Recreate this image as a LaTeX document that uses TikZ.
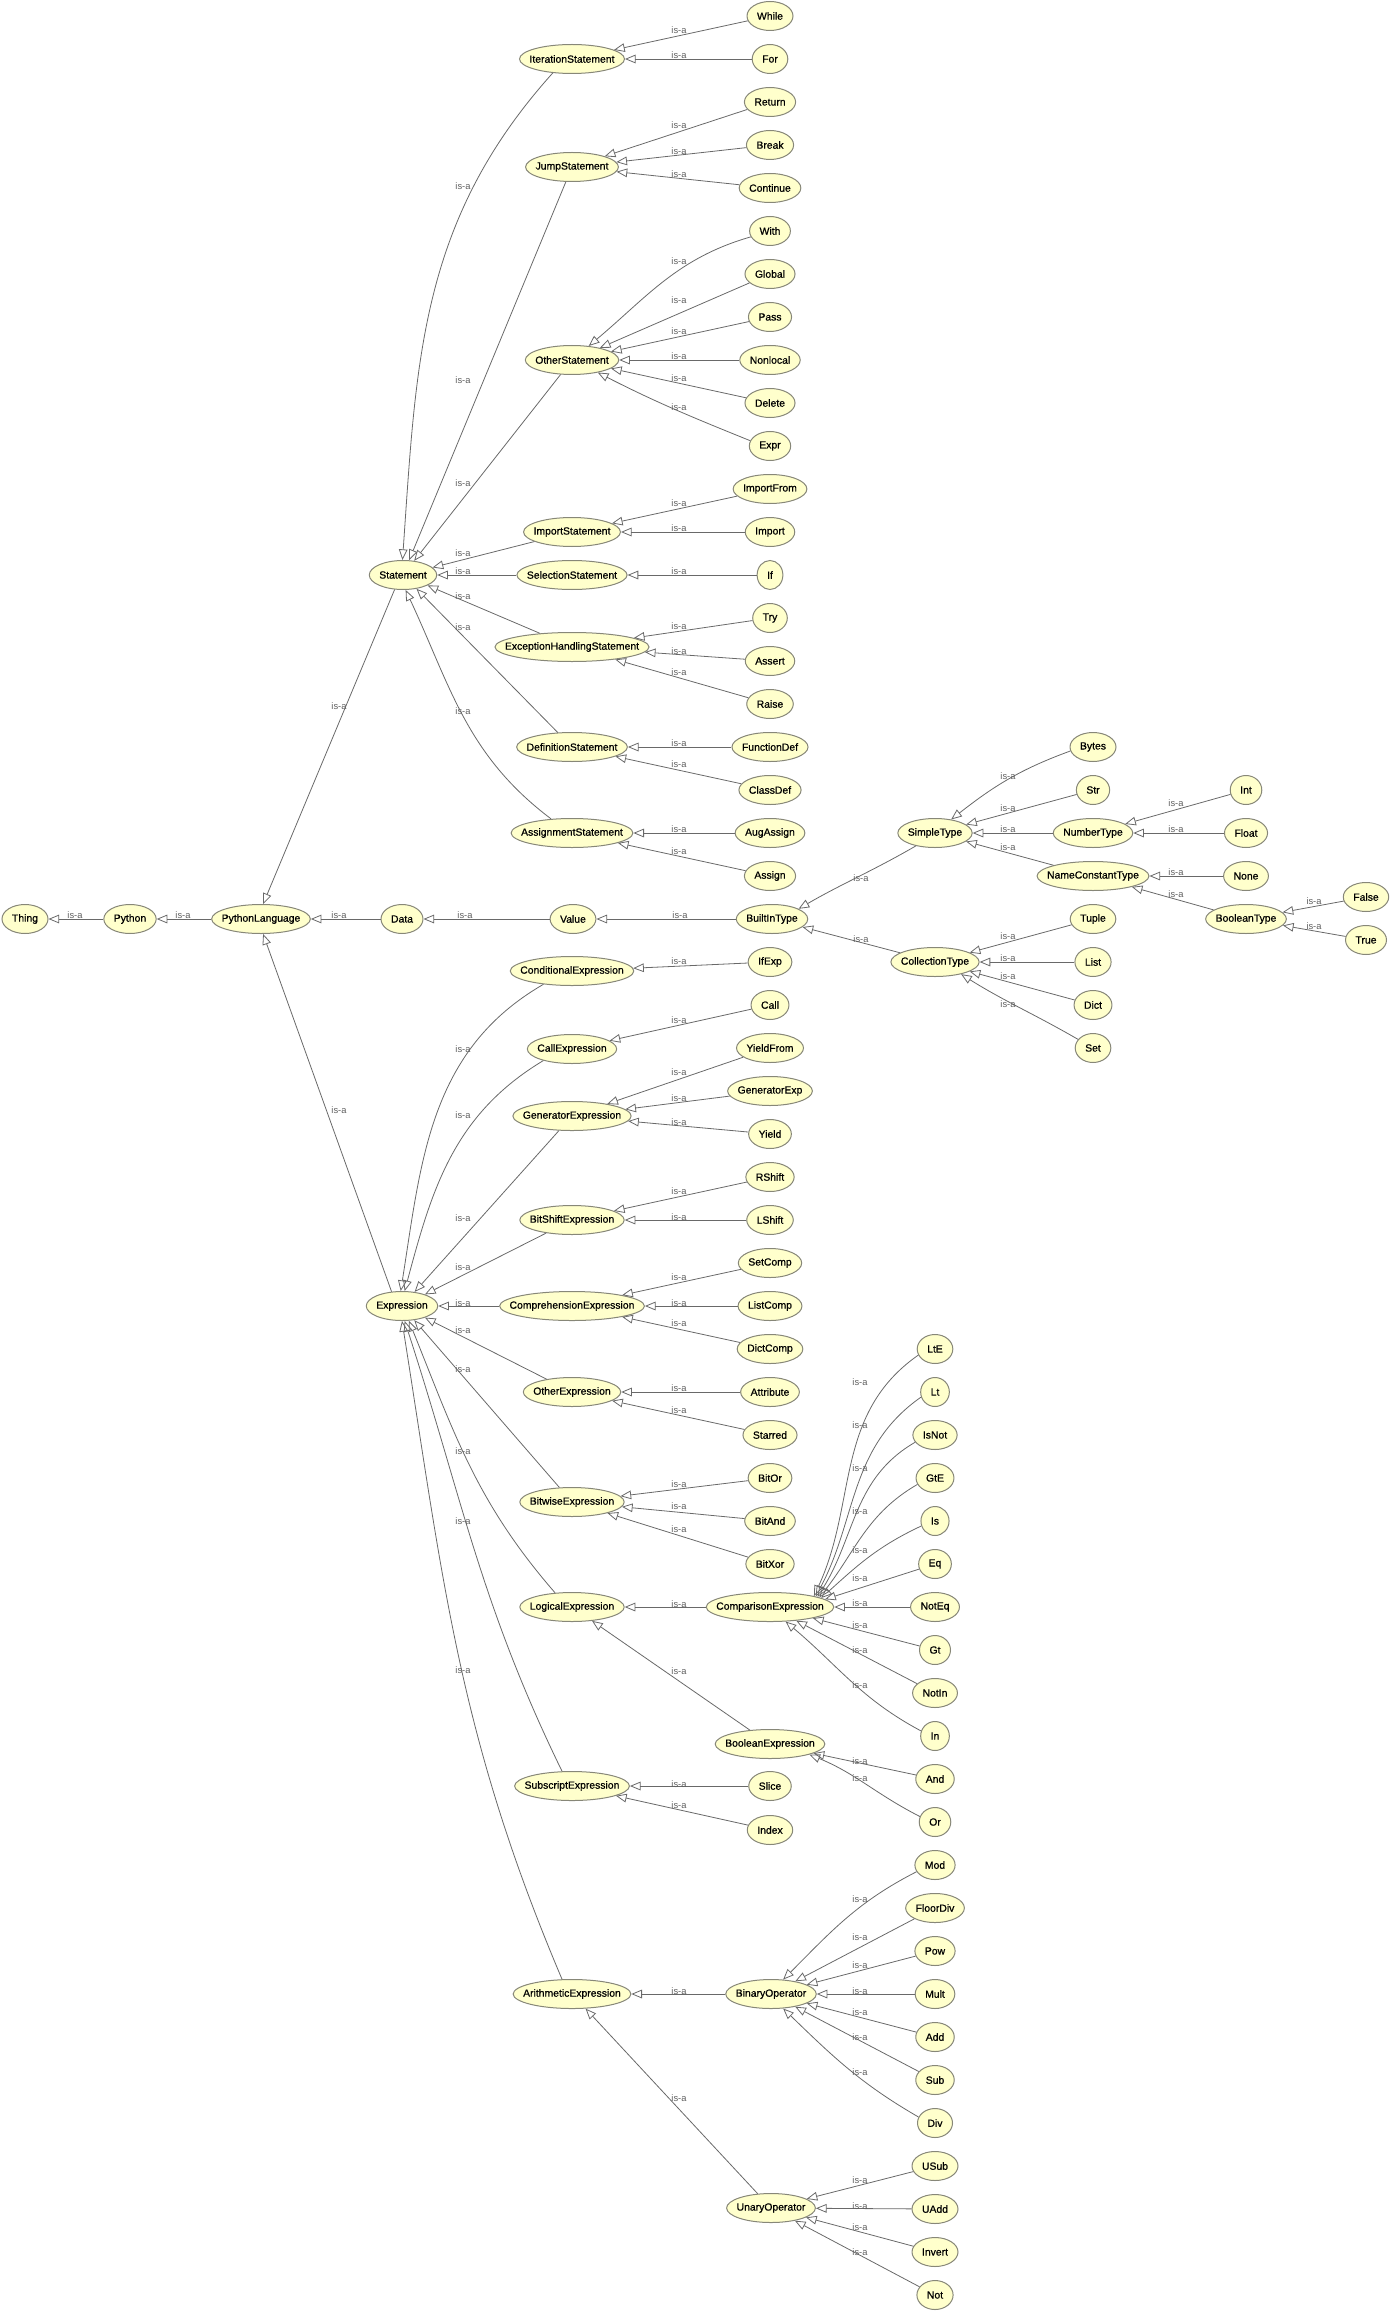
\documentclass[tikz,border=0pt]{standalone}
\usepackage{fontspec}
\setmainfont{Liberation Sans}
\newfontfamily\clsfont{Liberation Sans}[FakeBold=0.7]
\usepackage{xcolor}
\usepackage{tikz}
\usetikzlibrary{shapes.geometric,arrows.meta}
\definecolor{clsfill}{RGB}{255,255,204}
\definecolor{clsline}{RGB}{135,135,120}
\definecolor{edgeline}{RGB}{105,105,105}
\definecolor{lblgray}{RGB}{95,95,95}
\tikzset{
	cls/.style={ellipse, draw=clsline, fill=clsfill, line width=0.75pt,
		inner xsep={-0.5*\wd\pgfnodeparttextbox}, inner ysep=0pt,
		minimum width={\wd\pgfnodeparttextbox+15pt}, minimum height=21.75pt,
		font=\clsfont\fontsize{7.8pt}{9pt}\selectfont},
	isa/.style={draw=edgeline, line width=0.6pt, -{Triangle[open, length=8pt, width=6.5pt]}},
	lbl/.style={text=lblgray, inner sep=0pt, font=\fontsize{7pt}{8pt}\selectfont}
}
\begin{document}
\begin{tikzpicture}[x=0.75pt,y=0.75pt]
				\useasboundingbox (0,0) rectangle (1398,-2318);
				% main chain
				\node[cls] (Thing) at (25,-919) {Thing};
				\node[cls] (Python) at (130,-919) {Python};
				\node[cls] (PythonLanguage) at (261,-919) {PythonLanguage};
				\node[cls] (Data) at (402,-919) {Data};
				\node[cls] (Value) at (573,-919) {Value};
				\node[cls] (BuiltInType) at (772,-919) {BuiltInType};
				\node[cls] (Statement) at (403,-575) {Statement};
				\node[cls] (Expression) at (402,-1306) {Expression};
				% statements
				\node[cls] (IterationStatement) at (572,-59) {IterationStatement};
				\node[cls] (JumpStatement) at (572,-167) {JumpStatement};
				\node[cls] (OtherStatement) at (572,-360) {OtherStatement};
				\node[cls] (ImportStatement) at (572,-532) {ImportStatement};
				\node[cls] (SelectionStatement) at (572,-575) {SelectionStatement};
				\node[cls] (ExceptionHandlingStatement) at (572,-647) {ExceptionHandlingStatement};
				\node[cls] (DefinitionStatement) at (572,-747) {DefinitionStatement};
				\node[cls] (AssignmentStatement) at (572,-833) {AssignmentStatement};
				\node[cls] (While) at (770,-16) {While};
				\node[cls] (For) at (770,-59) {For};
				\node[cls] (Return) at (770,-102) {Return};
				\node[cls] (Break) at (770,-145) {Break};
				\node[cls] (Continue) at (770,-188) {Continue};
				\node[cls] (With) at (770,-231) {With};
				\node[cls] (Global) at (770,-274) {Global};
				\node[cls] (Pass) at (770,-317) {Pass};
				\node[cls] (Nonlocal) at (770,-360) {Nonlocal};
				\node[cls] (Delete) at (770,-403) {Delete};
				\node[cls] (Expr) at (770,-446) {Expr};
				\node[cls] (ImportFrom) at (770,-489) {ImportFrom};
				\node[cls] (Import) at (770,-532) {Import};
				\node[cls] (If) at (770,-575) {If};
				\node[cls] (Try) at (770,-618) {Try};
				\node[cls] (Assert) at (770,-661) {Assert};
				\node[cls] (Raise) at (770,-704) {Raise};
				\node[cls] (FunctionDef) at (770,-747) {FunctionDef};
				\node[cls] (ClassDef) at (770,-790) {ClassDef};
				\node[cls] (AugAssign) at (770,-833) {AugAssign};
				\node[cls] (Assign) at (770,-876) {Assign};
				% types
				\node[cls] (SimpleType) at (935,-833) {SimpleType};
				\node[cls] (CollectionType) at (935,-962) {CollectionType};
				\node[cls] (Bytes) at (1093,-747) {Bytes};
				\node[cls] (Str) at (1093,-790) {Str};
				\node[cls] (NumberType) at (1093,-833) {NumberType};
				\node[cls] (NameConstantType) at (1093,-876) {NameConstantType};
				\node[cls] (Tuple) at (1093,-919) {Tuple};
				\node[cls] (List) at (1093,-962) {List};
				\node[cls] (Dict) at (1093,-1005) {Dict};
				\node[cls] (Set) at (1093,-1048) {Set};
				\node[cls] (Int) at (1246,-790) {Int};
				\node[cls] (Float) at (1246,-833) {Float};
				\node[cls] (None) at (1246,-876) {None};
				\node[cls] (BooleanType) at (1246,-919) {BooleanType};
				\node[cls] (False) at (1366,-897) {False};
				\node[cls] (True) at (1366,-940) {True};
				% expressions
				\node[cls] (ConditionalExpression) at (572,-971) {ConditionalExpression};
				\node[cls] (CallExpression) at (572,-1049) {CallExpression};
				\node[cls] (GeneratorExpression) at (572,-1116) {GeneratorExpression};
				\node[cls] (BitShiftExpression) at (572,-1220) {BitShiftExpression};
				\node[cls] (ComprehensionExpression) at (572,-1306) {ComprehensionExpression};
				\node[cls] (OtherExpression) at (572,-1392) {OtherExpression};
				\node[cls] (BitwiseExpression) at (572,-1502) {BitwiseExpression};
				\node[cls] (LogicalExpression) at (572,-1607) {LogicalExpression};
				\node[cls] (SubscriptExpression) at (572,-1786) {SubscriptExpression};
				\node[cls] (ArithmeticExpression) at (572,-1994) {ArithmeticExpression};
				\node[cls] (IfExp) at (770,-962) {IfExp};
				\node[cls] (Call) at (770,-1005) {Call};
				\node[cls] (YieldFrom) at (770,-1048) {YieldFrom};
				\node[cls] (GeneratorExp) at (770,-1091) {GeneratorExp};
				\node[cls] (Yield) at (770,-1134) {Yield};
				\node[cls] (RShift) at (770,-1177) {RShift};
				\node[cls] (LShift) at (770,-1220) {LShift};
				\node[cls] (SetComp) at (770,-1263) {SetComp};
				\node[cls] (ListComp) at (770,-1306) {ListComp};
				\node[cls] (DictComp) at (770,-1349) {DictComp};
				\node[cls] (Attribute) at (770,-1392) {Attribute};
				\node[cls] (Starred) at (770,-1435) {Starred};
				\node[cls] (BitOr) at (770,-1478) {BitOr};
				\node[cls] (BitAnd) at (770,-1521) {BitAnd};
				\node[cls] (BitXor) at (770,-1564) {BitXor};
				\node[cls] (ComparisonExpression) at (770,-1607) {ComparisonExpression};
				\node[cls] (BooleanExpression) at (770,-1744) {BooleanExpression};
				\node[cls] (Slice) at (770,-1786) {Slice};
				\node[cls] (Index) at (770,-1830) {Index};
				\node[cls] (BinaryOperator) at (771,-1994) {BinaryOperator};
				\node[cls] (UnaryOperator) at (771,-2208) {UnaryOperator};
				\node[cls] (LtE) at (935,-1349) {LtE};
				\node[cls] (Lt) at (935,-1392) {Lt};
				\node[cls] (IsNot) at (935,-1435) {IsNot};
				\node[cls] (GtE) at (935,-1478) {GtE};
				\node[cls] (Is) at (935,-1521) {Is};
				\node[cls] (Eq) at (935,-1564) {Eq};
				\node[cls] (NotEq) at (935,-1607) {NotEq};
				\node[cls] (Gt) at (935,-1650) {Gt};
				\node[cls] (NotIn) at (935,-1693) {NotIn};
				\node[cls] (In) at (935,-1736) {In};
				\node[cls] (And) at (935,-1779) {And};
				\node[cls] (Or) at (935,-1822) {Or};
				\node[cls] (Mod) at (935,-1865) {Mod};
				\node[cls] (FloorDiv) at (935,-1908) {FloorDiv};
				\node[cls] (Pow) at (935,-1951) {Pow};
				\node[cls] (Mult) at (935,-1994) {Mult};
				\node[cls] (Add) at (935,-2037) {Add};
				\node[cls] (Sub) at (935,-2080) {Sub};
				\node[cls] (Div) at (935,-2123) {Div};
				\node[cls] (USub) at (935,-2166) {USub};
				\node[cls] (UAdd) at (935,-2209) {UAdd};
				\node[cls] (Invert) at (935,-2252) {Invert};
				\node[cls] (Not) at (935,-2295) {Not};
				% is-a edges
				\draw[isa] (Python) -- (Thing) node[lbl] at (75,-915) {is-a};
				\draw[isa] (PythonLanguage) -- (Python) node[lbl] at (183,-915) {is-a};
				\draw[isa] (Data) -- (PythonLanguage) node[lbl] at (339,-915) {is-a};
				\draw[isa] (Value) -- (Data) node[lbl] at (465,-915) {is-a};
				\draw[isa] (BuiltInType) -- (Value) node[lbl] at (680,-915) {is-a};
				\draw[isa] (Statement.240) -- (PythonLanguage.82) node[lbl] at (339,-706) {is-a};
				\draw[isa] (Expression.126) -- (PythonLanguage.-82) node[lbl] at (339,-1110) {is-a};
				\draw[isa] (IterationStatement.216) to[out=228,in=86] (Statement.92) node[lbl] at (463,-186) {is-a};
				\draw[isa] (JumpStatement) -- (Statement) node[lbl] at (463,-380) {is-a};
				\draw[isa] (OtherStatement) -- (Statement) node[lbl] at (463,-483) {is-a};
				\draw[isa] (ImportStatement) -- (Statement) node[lbl] at (463,-553) {is-a};
				\draw[isa] (SelectionStatement) -- (Statement) node[lbl] at (463,-571) {is-a};
				\draw[isa] (ExceptionHandlingStatement) -- (Statement) node[lbl] at (463,-596) {is-a};
				\draw[isa] (DefinitionStatement) -- (Statement) node[lbl] at (463,-627) {is-a};
				\draw[isa] (AssignmentStatement.146) to[out=143,in=-65] (Statement.-80) node[lbl] at (463,-711) {is-a};
				\draw[isa] (While) -- (IterationStatement) node[lbl] at (679,-30) {is-a};
				\draw[isa] (For) -- (IterationStatement) node[lbl] at (679,-55) {is-a};
				\draw[isa] (Return) -- (JumpStatement) node[lbl] at (679,-125) {is-a};
				\draw[isa] (Break) -- (JumpStatement) node[lbl] at (679,-151) {is-a};
				\draw[isa] (Continue) -- (JumpStatement) node[lbl] at (679,-174) {is-a};
				\draw[isa] (With.197) to[out=196,in=40] (OtherStatement.40) node[lbl] at (679,-261) {is-a};
				\draw[isa] (Global) -- (OtherStatement) node[lbl] at (679,-300) {is-a};
				\draw[isa] (Pass) -- (OtherStatement) node[lbl] at (679,-331) {is-a};
				\draw[isa] (Nonlocal) -- (OtherStatement) node[lbl] at (679,-356) {is-a};
				\draw[isa] (Delete) -- (OtherStatement) node[lbl] at (679,-378) {is-a};
				\draw[isa] (Expr.165) to[out=158,in=-27] (OtherStatement.-26) node[lbl] at (679,-407) {is-a};
				\draw[isa] (ImportFrom) -- (ImportStatement) node[lbl] at (679,-503) {is-a};
				\draw[isa] (Import) -- (ImportStatement) node[lbl] at (679,-528) {is-a};
				\draw[isa] (If) -- (SelectionStatement) node[lbl] at (679,-571) {is-a};
				\draw[isa] (Try) -- (ExceptionHandlingStatement) node[lbl] at (679,-626) {is-a};
				\draw[isa] (Assert) -- (ExceptionHandlingStatement) node[lbl] at (679,-651) {is-a};
				\draw[isa] (Raise) -- (ExceptionHandlingStatement) node[lbl] at (679,-672) {is-a};
				\draw[isa] (FunctionDef) -- (DefinitionStatement) node[lbl] at (679,-743) {is-a};
				\draw[isa] (ClassDef) -- (DefinitionStatement) node[lbl] at (679,-764) {is-a};
				\draw[isa] (AugAssign) -- (AssignmentStatement) node[lbl] at (679,-829) {is-a};
				\draw[isa] (Assign) -- (AssignmentStatement) node[lbl] at (679,-851) {is-a};
				\draw[isa] (SimpleType.214) to[out=210,in=30] (BuiltInType.21) node[lbl] at (861,-878) {is-a};
				\draw[isa] (CollectionType) -- (BuiltInType) node[lbl] at (861,-939) {is-a};
				\draw[isa] (Bytes.190) to[out=200,in=38] (SimpleType.40) node[lbl] at (1008,-776) {is-a};
				\draw[isa] (Str) -- (SimpleType) node[lbl] at (1008,-808) {is-a};
				\draw[isa] (NumberType) -- (SimpleType) node[lbl] at (1008,-829) {is-a};
				\draw[isa] (NameConstantType) -- (SimpleType) node[lbl] at (1008,-847) {is-a};
				\draw[isa] (Int) -- (NumberType) node[lbl] at (1176,-803) {is-a};
				\draw[isa] (Float) -- (NumberType) node[lbl] at (1176,-829) {is-a};
				\draw[isa] (None) -- (NameConstantType) node[lbl] at (1176,-872) {is-a};
				\draw[isa] (BooleanType) -- (NameConstantType) node[lbl] at (1176,-894) {is-a};
				\draw[isa] (False) -- (BooleanType) node[lbl] at (1314,-901) {is-a};
				\draw[isa] (True) -- (BooleanType) node[lbl] at (1314,-926) {is-a};
				\draw[isa] (Tuple) -- (CollectionType) node[lbl] at (1008,-936) {is-a};
				\draw[isa] (List) -- (CollectionType) node[lbl] at (1008,-958) {is-a};
				\draw[isa] (Dict) -- (CollectionType) node[lbl] at (1008,-976) {is-a};
				\draw[isa] (Set.150) to[out=150,in=-32] (CollectionType.-25) node[lbl] at (1008,-1004) {is-a};
				\draw[isa] (ConditionalExpression.205) to[out=210,in=81] (Expression.95) node[lbl] at (463,-1049) {is-a};
				\draw[isa] (CallExpression.202) to[out=211,in=75] (Expression.80) node[lbl] at (463,-1115) {is-a};
				\draw[isa] (GeneratorExpression) -- (Expression) node[lbl] at (463,-1218) {is-a};
				\draw[isa] (BitShiftExpression) -- (Expression) node[lbl] at (463,-1267) {is-a};
				\draw[isa] (ComprehensionExpression) -- (Expression) node[lbl] at (463,-1303) {is-a};
				\draw[isa] (OtherExpression) -- (Expression) node[lbl] at (463,-1330) {is-a};
				\draw[isa] (BitwiseExpression) -- (Expression) node[lbl] at (463,-1369) {is-a};
				\draw[isa] (LogicalExpression.140) to[out=131,in=-68] (Expression.-65) node[lbl] at (463,-1451) {is-a};
				\draw[isa] (SubscriptExpression.124) to[out=116,in=-72] (Expression.-80) node[lbl] at (463,-1521) {is-a};
				\draw[isa] (ArithmeticExpression.124) to[out=113,in=-81] (Expression.-90) node[lbl] at (463,-1670) {is-a};
				\draw[isa] (IfExp) -- (ConditionalExpression) node[lbl] at (679,-961) {is-a};
				\draw[isa] (Call) -- (CallExpression) node[lbl] at (679,-1020) {is-a};
				\draw[isa] (YieldFrom) -- (GeneratorExpression) node[lbl] at (679,-1072) {is-a};
				\draw[isa] (GeneratorExp) -- (GeneratorExpression) node[lbl] at (679,-1098) {is-a};
				\draw[isa] (Yield) -- (GeneratorExpression) node[lbl] at (679,-1122) {is-a};
				\draw[isa] (RShift) -- (BitShiftExpression) node[lbl] at (679,-1191) {is-a};
				\draw[isa] (LShift) -- (BitShiftExpression) node[lbl] at (679,-1217) {is-a};
				\draw[isa] (SetComp) -- (ComprehensionExpression) node[lbl] at (679,-1277) {is-a};
				\draw[isa] (ListComp) -- (ComprehensionExpression) node[lbl] at (679,-1303) {is-a};
				\draw[isa] (DictComp) -- (ComprehensionExpression) node[lbl] at (679,-1323) {is-a};
				\draw[isa] (Attribute) -- (OtherExpression) node[lbl] at (679,-1388) {is-a};
				\draw[isa] (Starred) -- (OtherExpression) node[lbl] at (679,-1410) {is-a};
				\draw[isa] (BitOr) -- (BitwiseExpression) node[lbl] at (679,-1484) {is-a};
				\draw[isa] (BitAnd) -- (BitwiseExpression) node[lbl] at (679,-1506) {is-a};
				\draw[isa] (BitXor) -- (BitwiseExpression) node[lbl] at (679,-1529) {is-a};
				\draw[isa] (ComparisonExpression) -- (LogicalExpression) node[lbl] at (679,-1604) {is-a};
				\draw[isa] (BooleanExpression) -- (LogicalExpression) node[lbl] at (679,-1671) {is-a};
				\draw[isa] (Slice) -- (SubscriptExpression) node[lbl] at (679,-1784) {is-a};
				\draw[isa] (Index) -- (SubscriptExpression) node[lbl] at (679,-1805) {is-a};
				\draw[isa] (BinaryOperator) -- (ArithmeticExpression) node[lbl] at (679,-1991) {is-a};
				\draw[isa] (UnaryOperator) -- (ArithmeticExpression) node[lbl] at (679,-2098) {is-a};
				\draw[isa] (LtE.200) to[out=215,in=65] (ComparisonExpression.14) node[lbl] at (860,-1382) {is-a};
				\draw[isa] (Lt.200) to[out=215,in=62] (ComparisonExpression.13) node[lbl] at (860,-1425) {is-a};
				\draw[isa] (IsNot.200) to[out=210,in=58] (ComparisonExpression.12) node[lbl] at (860,-1468) {is-a};
				\draw[isa] (GtE.200) to[out=210,in=52] (ComparisonExpression.11) node[lbl] at (860,-1511) {is-a};
				\draw[isa] (Is.200) to[out=205,in=42] (ComparisonExpression.10) node[lbl] at (860,-1550) {is-a};
				\draw[isa] (Eq) -- (ComparisonExpression.8) node[lbl] at (860,-1578) {is-a};
				\draw[isa] (NotEq) -- (ComparisonExpression) node[lbl] at (860,-1603) {is-a};
				\draw[isa] (Gt) -- (ComparisonExpression) node[lbl] at (860,-1625) {is-a};
				\draw[isa] (NotIn) -- (ComparisonExpression) node[lbl] at (860,-1650) {is-a};
				\draw[isa] (In.160) to[out=152,in=-40] (ComparisonExpression.-43) node[lbl] at (860,-1685) {is-a};
				\draw[isa] (And) -- (BooleanExpression) node[lbl] at (860,-1761) {is-a};
				\draw[isa] (Or.160) to[out=153,in=-22] (BooleanExpression.-15) node[lbl] at (860,-1778) {is-a};
				\draw[isa] (Mod.200) to[out=207,in=45] (BinaryOperator.50) node[lbl] at (860,-1899) {is-a};
				\draw[isa] (FloorDiv) -- (BinaryOperator) node[lbl] at (860,-1937) {is-a};
				\draw[isa] (Pow) -- (BinaryOperator) node[lbl] at (860,-1965) {is-a};
				\draw[isa] (Mult) -- (BinaryOperator) node[lbl] at (860,-1991) {is-a};
				\draw[isa] (Add) -- (BinaryOperator) node[lbl] at (860,-2012) {is-a};
				\draw[isa] (Sub) -- (BinaryOperator) node[lbl] at (860,-2037) {is-a};
				\draw[isa] (Div.160) to[out=150,in=-44] (BinaryOperator.-50) node[lbl] at (860,-2072) {is-a};
				\draw[isa] (USub) -- (UnaryOperator) node[lbl] at (860,-2180) {is-a};
				\draw[isa] (UAdd) -- (UnaryOperator) node[lbl] at (860,-2206) {is-a};
				\draw[isa] (Invert) -- (UnaryOperator) node[lbl] at (860,-2227) {is-a};
				\draw[isa] (Not) -- (UnaryOperator) node[lbl] at (860,-2252) {is-a};
			\end{tikzpicture}
\end{document}
